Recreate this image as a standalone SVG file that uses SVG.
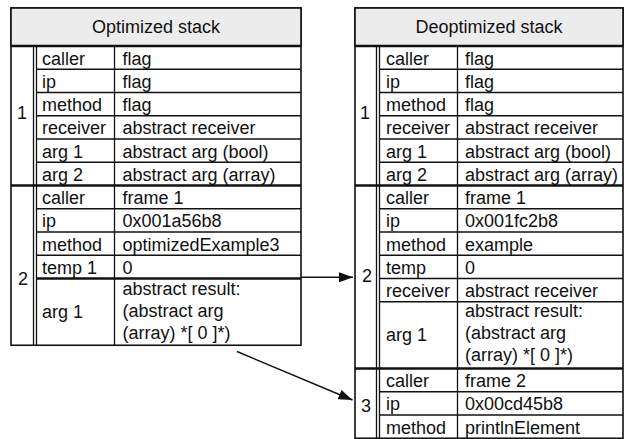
<svg xmlns="http://www.w3.org/2000/svg" width="624" height="439" viewBox="0 0 624 439">
<defs>
<style>
text{font-family:"Liberation Sans",Arial,Helvetica,sans-serif;font-size:18px;fill:#111}
.t{text-anchor:middle}
.ln{stroke:#111;stroke-width:1.3;fill:none}
.th{stroke:#111;stroke-width:2.6;fill:none}
.box{fill:#fff;stroke:#111;stroke-width:1.6}
.title{fill:#ececec;stroke:#111;stroke-width:1.6}
.conn{stroke:#111;stroke-width:1.4;fill:none}
</style>
<marker id="ah" markerWidth="14" markerHeight="10" refX="14" refY="5" orient="auto" markerUnits="userSpaceOnUse">
<path d="M0,0 L14,5 L0,10 Z" fill="#111"/>
</marker>
</defs>

<g id="optimized-stack">
<rect class="box" x="11" y="8" width="290" height="337.25"/>
<rect class="title" x="11" y="8" width="290" height="38"/>
<text class="t" x="156" y="33">Optimized stack</text>
<line class="th" x1="11" y1="46" x2="301" y2="46"/>
<line class="ln" x1="33.5" y1="46" x2="33.5" y2="345.25"/>
<line class="ln" x1="36.5" y1="46" x2="36.5" y2="345.25"/>
<line class="ln" x1="114.5" y1="46" x2="114.5" y2="345.25"/>
<line class="ln" x1="36.5" y1="69.25" x2="301" y2="69.25"/>
<line class="ln" x1="36.5" y1="92.5" x2="301" y2="92.5"/>
<line class="ln" x1="36.5" y1="115.75" x2="301" y2="115.75"/>
<line class="ln" x1="36.5" y1="139" x2="301" y2="139"/>
<line class="ln" x1="36.5" y1="162.25" x2="301" y2="162.25"/>
<line class="th" x1="11" y1="185.5" x2="301" y2="185.5"/>
<line class="ln" x1="36.5" y1="208.75" x2="301" y2="208.75"/>
<line class="ln" x1="36.5" y1="232" x2="301" y2="232"/>
<line class="ln" x1="36.5" y1="255.25" x2="301" y2="255.25"/>
<line class="th" x1="36.5" y1="278.5" x2="301" y2="278.5"/>
<g id="opt-frame-1">
<text class="t" x="22" y="118.5">1</text>
<text x="42" y="64.5">caller</text><text x="122.5" y="64.5">flag</text>
<text x="42" y="87.75">ip</text><text x="122.5" y="87.75">flag</text>
<text x="42" y="111">method</text><text x="122.5" y="111">flag</text>
<text x="42" y="134.25">receiver</text><text x="122.5" y="134.25">abstract receiver</text>
<text x="42" y="157.5">arg 1</text><text x="122.5" y="157.5">abstract arg (bool)</text>
<text x="42" y="180.75">arg 2</text><text x="122.5" y="180.75">abstract arg (array)</text>
</g>
<g id="opt-frame-2">
<text class="t" x="23" y="285">2</text>
<text x="42" y="204">caller</text><text x="122.5" y="204">frame 1</text>
<text x="42" y="227.25">ip</text><text x="122.5" y="227.25">0x001a56b8</text>
<text x="42" y="250.5">method</text><text x="122.5" y="250.5">optimizedExample3</text>
<text x="42" y="273.75">temp 1</text><text x="122.5" y="273.75">0</text>
<text x="42" y="318">arg 1</text>
<text x="122.5" y="295">abstract result:</text>
<text x="122.5" y="317">(abstract arg</text>
<text x="122.5" y="339">(array) *[ 0 ]*)</text>
</g>
</g>

<g id="deoptimized-stack">
<rect class="box" x="355" y="8" width="268" height="430.25"/>
<rect class="title" x="355" y="8" width="268" height="38"/>
<text class="t" x="489" y="33">Deoptimized stack</text>
<line class="th" x1="355" y1="46" x2="623" y2="46"/>
<line class="ln" x1="376.5" y1="46" x2="376.5" y2="438.25"/>
<line class="ln" x1="379.5" y1="46" x2="379.5" y2="438.25"/>
<line class="ln" x1="457.5" y1="46" x2="457.5" y2="438.25"/>
<line class="ln" x1="379.5" y1="69.25" x2="623" y2="69.25"/>
<line class="ln" x1="379.5" y1="92.5" x2="623" y2="92.5"/>
<line class="ln" x1="379.5" y1="115.75" x2="623" y2="115.75"/>
<line class="ln" x1="379.5" y1="139" x2="623" y2="139"/>
<line class="ln" x1="379.5" y1="162.25" x2="623" y2="162.25"/>
<line class="th" x1="355" y1="185.5" x2="623" y2="185.5"/>
<line class="ln" x1="379.5" y1="208.75" x2="623" y2="208.75"/>
<line class="ln" x1="379.5" y1="232" x2="623" y2="232"/>
<line class="ln" x1="379.5" y1="255.25" x2="623" y2="255.25"/>
<line class="ln" x1="379.5" y1="278.5" x2="623" y2="278.5"/>
<line class="ln" x1="379.5" y1="301.75" x2="623" y2="301.75"/>
<line class="th" x1="355" y1="368.5" x2="623" y2="368.5"/>
<line class="ln" x1="379.5" y1="391.75" x2="623" y2="391.75"/>
<line class="ln" x1="379.5" y1="415" x2="623" y2="415"/>
<g id="deopt-frame-1">
<text class="t" x="365" y="118.5">1</text>
<text x="386" y="64.5">caller</text><text x="465" y="64.5">flag</text>
<text x="386" y="87.75">ip</text><text x="465" y="87.75">flag</text>
<text x="386" y="111">method</text><text x="465" y="111">flag</text>
<text x="386" y="134.25">receiver</text><text x="465" y="134.25">abstract receiver</text>
<text x="386" y="157.5">arg 1</text><text x="465" y="157.5">abstract arg (bool)</text>
<text x="386" y="180.75">arg 2</text><text x="465" y="180.75">abstract arg (array)</text>
</g>
<g id="deopt-frame-2">
<text class="t" x="367" y="282">2</text>
<text x="386" y="204">caller</text><text x="465" y="204">frame 1</text>
<text x="386" y="227.25">ip</text><text x="465" y="227.25">0x001fc2b8</text>
<text x="386" y="250.5">method</text><text x="465" y="250.5">example</text>
<text x="386" y="273.75">temp</text><text x="465" y="273.75">0</text>
<text x="386" y="297">receiver</text><text x="465" y="297">abstract receiver</text>
<text x="386" y="341">arg 1</text>
<text x="465" y="317">abstract result:</text>
<text x="465" y="339">(abstract arg</text>
<text x="465" y="361">(array) *[ 0 ]*)</text>
</g>
<g id="deopt-frame-3">
<text class="t" x="366" y="412">3</text>
<text x="386" y="387">caller</text><text x="465" y="387">frame 2</text>
<text x="386" y="410.25">ip</text><text x="465" y="410.25">0x00cd45b8</text>
<text x="386" y="433.5">method</text><text x="465" y="433.5">printlnElement</text>
</g>
</g>

<g id="connectors">
<line class="conn" x1="301" y1="277.3" x2="353" y2="277.3" marker-end="url(#ah)"/>
<line class="conn" x1="237" y1="351.5" x2="352.5" y2="400" marker-end="url(#ah)"/>
</g>
</svg>
